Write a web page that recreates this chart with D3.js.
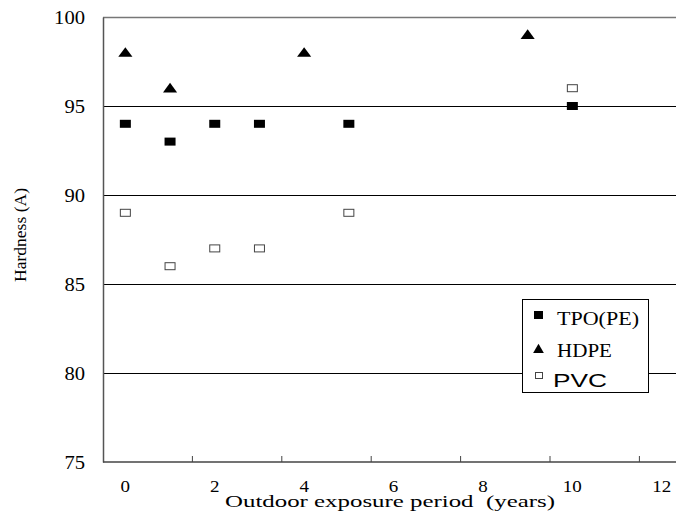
<!DOCTYPE html>
<html>
<head>
<meta charset="utf-8">
<script src="https://cdn.jsdelivr.net/npm/d3@7"></script>
<style>
  body{margin:0;background:#fff;}
  svg{display:block;font-family:"Liberation Serif","Times New Roman",serif;}
</style>
</head>
<body>
<div id="chart"></div>
<script>
// values
const seriesNames = ["TPO(PE)","HDPE","PVC"];
const tpoYears = [0,1,2,3,5,10];
const tpoHard  = [94,93,94,94,94,95];
const hdpeYears = [0,1,4,9];
const hdpeHard  = [98,96,98,99];
const pvcYears = [0,1,2,3,5,10];
const pvcHard  = [89,86,87,87,89,96];
const xTickLabels = [0,2,4,6,8,10,12];
const yTickLabels = [75,80,85,90,95,100];

const W = 676, H = 517;
const padL = 103, padT = 17, padB = 462;

const svg = d3.select("#chart").append("svg")
  .attr("width",W).attr("height",H);

const x = d3.scaleLinear().domain([-0.5,12.5]).range([padL,padL+13*44.7]);
const y = d3.scaleLinear().domain([75,100]).range([padB,padT]);

// gridlines
svg.append("g").selectAll("line")
  .data(yTickLabels.filter(d=>d>75 && d<100))
  .enter().append("line")
  .attr("x1",padL).attr("x2",W)
  .attr("y1",d=>Math.round(y(d))+0.5).attr("y2",d=>Math.round(y(d))+0.5)
  .attr("stroke","#000").attr("stroke-width",1.2);

// top border
svg.append("line")
  .attr("x1",padL).attr("x2",W)
  .attr("y1",Math.round(y(100))+0.5).attr("y2",Math.round(y(100))+0.5)
  .attr("stroke","#777").attr("stroke-width",1.5);

// y axis
const yAxis = d3.axisLeft(y).tickValues(yTickLabels).tickSize(0).tickPadding(18);
const gy = svg.append("g").attr("transform","translate("+padL+",0)").call(yAxis);
gy.select(".domain").attr("stroke","#555").attr("stroke-width",1.5);
gy.selectAll("text")
  .style("font-size","19px").style("font-family","Liberation Serif")
  .attr("textLength",d=>String(d).length*10.3)
  .attr("lengthAdjust","spacingAndGlyphs");

// x axis: tick marks between labels, pointing inward
const gx = svg.append("g").attr("transform","translate(0,"+padB+")");
gx.append("line").attr("x1",padL).attr("x2",W).attr("y1",0).attr("y2",0)
  .attr("stroke","#444").attr("stroke-width",1.5);
gx.selectAll(".tk")
  .data(xTickLabels.map(d=>d+1.5))
  .enter().append("line")
  .attr("class","tk")
  .attr("x1",d=>x(d)).attr("x2",d=>x(d))
  .attr("y1",0).attr("y2",-6)
  .attr("stroke","#444").attr("stroke-width",1);
gx.selectAll(".lbl")
  .data(xTickLabels)
  .enter().append("text")
  .attr("class","lbl")
  .attr("x",d=>x(d)).attr("y",30)
  .attr("text-anchor","middle")
  .style("font-size","17px")
  .attr("textLength",d=>String(d).length*9.5)
  .attr("lengthAdjust","spacingAndGlyphs")
  .text(d=>d);

// axis titles
svg.append("text")
  .attr("x",390).attr("y",507)
  .attr("text-anchor","middle")
  .style("font-size","17px")
  .style("white-space","pre")
  .attr("textLength",330)
  .attr("lengthAdjust","spacingAndGlyphs")
  .text("Outdoor exposure period  (years)");

svg.append("text")
  .attr("transform","translate(26,235) rotate(-90)")
  .attr("text-anchor","middle")
  .attr("textLength",94)
  .attr("lengthAdjust","spacingAndGlyphs")
  .style("font-size","16px")
  .text("Hardness (A)");

// markers
const tri = d3.symbol().type(d3.symbolTriangle).size(60);

svg.append("g").selectAll("rect")
  .data(tpoYears.map((d,i)=>[d,tpoHard[i]]))
  .enter().append("rect")
  .attr("x",d=>x(d[0])-5.5).attr("y",d=>y(d[1])-4)
  .attr("width",11).attr("height",8)
  .attr("fill","#000");

svg.append("g").selectAll("path")
  .data(hdpeYears.map((d,i)=>[d,hdpeHard[i]]))
  .enter().append("path")
  .attr("d",tri)
  .attr("transform",d=>"translate("+x(d[0])+","+(y(d[1])+1)+") scale(1.2,0.95)")
  .attr("fill","#000");

svg.append("g").selectAll("rect")
  .data(pvcYears.map((d,i)=>[d,pvcHard[i]]))
  .enter().append("rect")
  .attr("x",d=>x(d[0])-5).attr("y",d=>y(d[1])-3.5)
  .attr("width",10).attr("height",7)
  .attr("fill","#fff").attr("stroke","#444").attr("stroke-width",1);

// legend
const lg = svg.append("g").attr("transform","translate(522,299)");
lg.append("rect").attr("x",0.5).attr("y",0.5).attr("width",126).attr("height",93)
  .attr("fill","#fff").attr("stroke","#000").attr("stroke-width",1);
lg.append("rect").attr("x",12).attr("y",12).attr("width",9).attr("height",8).attr("fill","#000");
lg.append("path").attr("d",d3.symbol().type(d3.symbolTriangle).size(50))
  .attr("transform","translate(16.5,51)").attr("fill","#000");
lg.append("rect").attr("x",13.5).attr("y",73.5).attr("width",7).attr("height",6)
  .attr("fill","#fff").attr("stroke","#444").attr("stroke-width",1);
lg.append("text").attr("x",35).attr("y",26).style("font-size","18px")
  .attr("textLength",82).attr("lengthAdjust","spacingAndGlyphs").text(seriesNames[0]);
lg.append("text").attr("x",35).attr("y",58).style("font-size","18px")
  .attr("textLength",55).attr("lengthAdjust","spacingAndGlyphs").text(seriesNames[1]);
lg.append("text").attr("x",31).attr("y",88)
  .style("font-family","Liberation Sans, Arial, sans-serif")
  .style("font-size","19px")
  .attr("textLength",54).attr("lengthAdjust","spacingAndGlyphs").text(seriesNames[2]);
</script>
</body>
</html>
